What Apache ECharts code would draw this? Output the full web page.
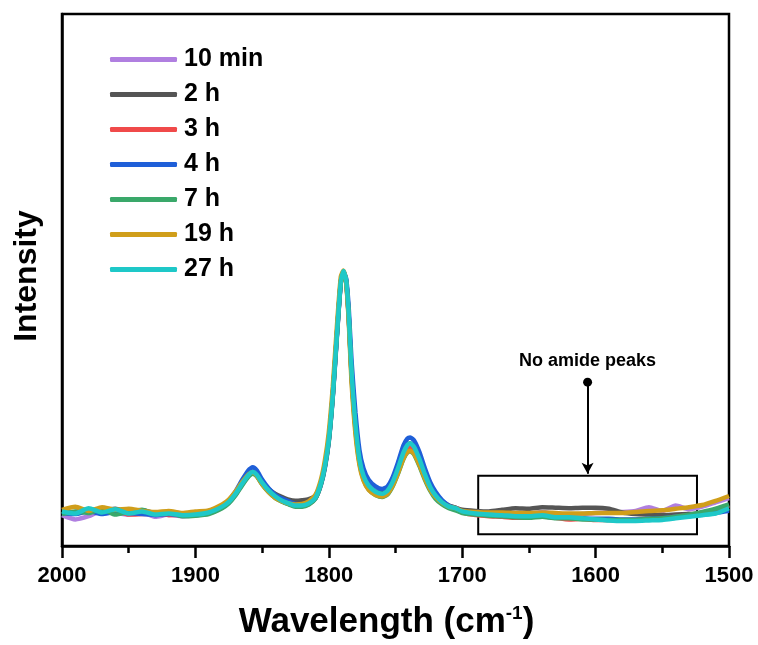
<!DOCTYPE html>
<html>
<head>
<meta charset="utf-8">
<script src="https://cdn.jsdelivr.net/npm/echarts@6/dist/echarts.min.js"></script>
<style>
  html, body { margin: 0; padding: 0; background: #fff; }
  #chart { width: 758px; height: 645px; }
</style>
</head>
<body>
<div id="chart"></div>
<script>
  // wavenumbers (cm-1), shared by every spectrum
  const wavenumbers = [2000, 1990, 1980, 1970, 1960, 1950, 1940, 1930, 1920, 1910,
    1900, 1890, 1880, 1875, 1870, 1865, 1860, 1857, 1854, 1850,
    1845, 1840, 1835, 1830, 1825, 1820, 1815, 1810, 1806, 1803,
    1800, 1797, 1794, 1791, 1789, 1787, 1785, 1783, 1780, 1777,
    1774, 1770, 1765, 1760, 1756, 1752, 1748, 1744, 1741, 1739,
    1736, 1732, 1728, 1724, 1720, 1715, 1710, 1705, 1700, 1690,
    1680, 1670, 1660, 1650, 1640, 1630, 1620, 1610, 1600, 1590,
    1580, 1570, 1560, 1550, 1540, 1530, 1520, 1510, 1500]

  const seriesNames = ['10 min', '2 h', '3 h', '4 h', '7 h', '19 h', '27 h']
  const seriesColors = ['#b07fe0', '#555555', '#f04a4a', '#1f5fd8', '#3aa86a', '#d09e1a', '#1ec8c8']

  const min10 = [5.8, 5.0, 5.6, 6.6, 6.2, 5.9, 6.3, 5.5, 5.9, 5.6,
    5.8, 6.1, 7.2, 8.1, 9.6, 11.5, 13.2, 13.7, 13.2, 11.8,
    10.3, 9.2, 8.4, 7.9, 7.5, 7.5, 7.9, 9.0, 11.6, 14.9,
    19.9, 28.3, 39.4, 49.6, 51.6, 50.0, 43.0, 32.8, 22.6, 16.2,
    13.1, 11.2, 10.1, 9.7, 10.3, 12.0, 14.5, 17.3, 18.7, 19.0,
    18.3, 16.0, 13.3, 11.0, 9.4, 8.2, 7.5, 7.2, 6.7, 6.3,
    6.1, 6.0, 5.9, 6.0, 6.4, 6.0, 5.8, 6.0, 6.2, 6.3,
    6.4, 6.6, 7.3, 6.6, 7.6, 6.9, 7.4, 8.2, 9.0]
  const h2 = [6.6, 6.3, 6.9, 6.6, 7.0, 6.4, 6.7, 6.2, 6.4, 6.1,
    6.2, 6.6, 7.5, 8.4, 9.9, 11.8, 13.5, 14.0, 13.5, 12.0,
    10.7, 9.8, 9.2, 8.7, 8.5, 8.6, 8.8, 9.5, 11.8, 15.0,
    20.2, 28.6, 39.7, 49.8, 51.6, 49.8, 42.8, 32.5, 22.4, 16.0,
    13.0, 11.2, 10.3, 10.0, 10.5, 12.2, 14.6, 17.4, 18.9, 19.3,
    18.5, 16.1, 13.4, 11.2, 9.7, 8.4, 7.6, 7.2, 6.8, 6.6,
    6.5, 6.8, 7.1, 7.0, 7.3, 7.2, 7.1, 7.2, 7.2, 7.0,
    6.3, 6.0, 5.9, 5.8, 5.9, 6.0, 6.1, 6.3, 6.8]
  const h3 = [6.3, 6.4, 6.8, 6.1, 6.7, 5.9, 6.0, 6.1, 5.8, 5.9,
    6.0, 6.2, 7.3, 8.2, 9.7, 11.6, 13.3, 13.8, 13.3, 11.8,
    10.3, 9.2, 8.4, 7.9, 7.5, 7.5, 7.9, 9.0, 11.6, 14.9,
    19.9, 28.3, 39.4, 49.6, 51.5, 49.9, 43.0, 32.6, 22.4, 16.0,
    12.9, 11.0, 10.0, 9.6, 10.1, 11.8, 14.2, 17.0, 18.4, 18.7,
    18.0, 15.7, 13.0, 10.8, 9.2, 8.0, 7.2, 6.9, 6.3, 5.8,
    5.6, 5.5, 5.3, 5.4, 5.6, 5.3, 5.0, 5.1, 4.9, 4.9,
    4.8, 4.9, 5.0, 5.1, 5.5, 5.8, 6.3, 6.8, 7.6]
  const h4 = [6.2, 6.0, 6.6, 6.0, 6.4, 6.2, 6.0, 5.8, 6.0, 5.7,
    5.8, 6.2, 7.6, 8.6, 10.2, 12.4, 14.3, 14.8, 14.2, 12.5,
    10.8, 9.6, 8.9, 8.4, 7.9, 7.8, 8.1, 9.0, 11.4, 14.6,
    19.6, 28.0, 39.0, 49.4, 51.4, 50.3, 44.5, 35.0, 25.0, 18.0,
    14.6, 12.4, 11.2, 10.7, 11.2, 13.0, 15.8, 18.9, 20.2, 20.4,
    19.8, 17.6, 14.6, 12.0, 10.2, 8.6, 7.6, 7.0, 6.4, 6.0,
    5.8, 5.7, 5.6, 5.5, 5.6, 5.3, 5.3, 5.2, 5.1, 5.1,
    5.0, 5.0, 5.1, 5.2, 5.5, 5.6, 5.9, 6.2, 6.6]
  const h7 = [6.0, 6.5, 6.2, 7.0, 5.9, 6.4, 6.8, 6.0, 6.3, 5.6,
    5.7, 6.0, 7.1, 8.0, 9.5, 11.4, 13.1, 13.6, 13.1, 11.6,
    10.1, 9.0, 8.3, 7.8, 7.4, 7.4, 7.8, 8.9, 11.5, 14.8,
    19.8, 28.2, 39.3, 49.5, 51.4, 49.6, 42.6, 32.0, 21.8, 15.6,
    12.5, 10.6, 9.6, 9.2, 9.7, 11.3, 13.7, 16.4, 17.6, 17.8,
    17.2, 15.0, 12.5, 10.4, 8.9, 7.8, 7.1, 6.7, 6.2, 5.9,
    5.7, 5.6, 5.4, 5.3, 5.5, 5.2, 5.2, 5.0, 5.0, 4.9,
    4.9, 4.9, 5.1, 5.2, 5.5, 5.9, 6.4, 7.0, 7.8]
  const h19 = [6.8, 7.4, 6.6, 7.3, 6.8, 7.0, 6.6, 6.4, 6.6, 6.2,
    6.5, 6.7, 7.8, 8.7, 10.2, 12.0, 13.5, 13.8, 13.2, 11.6,
    10.1, 9.0, 8.4, 8.0, 7.8, 7.9, 8.4, 9.6, 12.4, 16.0,
    21.4, 30.0, 41.0, 50.6, 51.8, 49.5, 42.0, 31.0, 21.0, 15.2,
    12.3, 10.5, 9.6, 9.3, 9.8, 11.4, 13.8, 16.5, 17.7, 17.9,
    17.3, 15.2, 12.7, 10.6, 9.2, 8.1, 7.4, 7.1, 6.6, 6.4,
    6.3, 6.3, 6.2, 6.2, 6.3, 6.2, 6.1, 6.1, 6.2, 6.2,
    6.2, 6.4, 6.6, 6.7, 7.0, 7.3, 7.7, 8.5, 9.4]
  const h27 = [6.5, 6.1, 7.1, 6.3, 6.9, 6.1, 6.5, 5.9, 6.1, 5.8,
    5.9, 6.3, 7.4, 8.3, 9.8, 11.7, 13.4, 13.9, 13.4, 11.9,
    10.4, 9.3, 8.5, 8.0, 7.6, 7.6, 8.0, 9.1, 11.7, 15.0,
    20.0, 28.4, 39.5, 49.7, 51.7, 50.0, 43.2, 33.0, 22.8, 16.3,
    13.2, 11.3, 10.2, 9.8, 10.4, 12.1, 14.7, 17.6, 19.0, 19.3,
    18.6, 16.3, 13.5, 11.1, 9.5, 8.2, 7.4, 7.1, 6.5, 6.1,
    5.9, 5.8, 5.6, 5.6, 5.8, 5.4, 5.4, 5.2, 5.0, 4.8,
    4.7, 4.7, 4.8, 4.9, 5.2, 5.5, 5.8, 6.1, 7.1]

  const spectra = [min10, h2, h3, h4, h7, h19, h27]

  // annotation: box over the amide region and the arrow pointing into it
  const boxWn = [1688, 1524]
  const boxIntensity = [2.2, 13.2]
  const arrowWn = 1606
  const arrowIntensity = [30.8, 13.6]

  const font = 'Liberation Sans, Arial, sans-serif'

  const chart = echarts.init(document.getElementById('chart'))

  const series = spectra.map((vals, i) => {
    const s = {
      name: seriesNames[i],
      type: 'line',
      data: vals.map((v, j) => [wavenumbers[j], v]),
      showSymbol: false,
      smooth: 0.2,
      color: seriesColors[i],
      lineStyle: { width: 4.5, color: seriesColors[i] },
      animation: false
    }
    if (i === spectra.length - 1) {
      s.markArea = {
        silent: true,
        itemStyle: { color: 'rgba(0,0,0,0)', borderColor: '#000', borderWidth: 2 },
        data: [[{ coord: [boxWn[0], boxIntensity[1]] }, { coord: [boxWn[1], boxIntensity[0]] }]]
      }
      s.markLine = {
        silent: true,
        symbol: ['circle', 'arrow'],
        symbolSize: [9, 11],
        lineStyle: { color: '#000', type: 'solid', width: 2 },
        label: {
          show: true,
          position: 'start',
          distance: 12,
          formatter: 'No amide peaks',
          color: '#000',
          fontFamily: font,
          fontWeight: 'bold',
          fontSize: 18
        },
        data: [[{ coord: [arrowWn, arrowIntensity[0]] }, { coord: [arrowWn, arrowIntensity[1]] }]]
      }
    }
    return s
  })

  chart.setOption({
    backgroundColor: '#fff',
    grid: {
      left: 62,
      right: 29,
      top: 14,
      bottom: 92,
      show: true,
      borderColor: '#000',
      borderWidth: 2.5,
      backgroundColor: 'transparent'
    },
    legend: {
      orient: 'vertical',
      left: 105,
      top: 42,
      icon: 'roundRect',
      itemWidth: 67,
      itemHeight: 5,
      itemGap: 10,
      data: seriesNames,
      textStyle: {
        fontFamily: font,
        fontWeight: 'bold',
        fontSize: 25,
        lineHeight: 24,
        color: '#000',
        padding: [0, 0, 0, 2]
      }
    },
    xAxis: {
      type: 'value',
      min: 1500,
      max: 2000,
      interval: 100,
      inverse: true,
      name: 'Wavelength (cm{sup|-1})',
      nameLocation: 'middle',
      nameGap: 58,
      nameTextStyle: {
        fontFamily: font,
        fontWeight: 'bold',
        fontSize: 35,
        color: '#000',
        padding: [0, 18, 0, 0],
        rich: {
          sup: { fontFamily: font, fontWeight: 'bold', fontSize: 19, verticalAlign: 'top', padding: [0, 0, 18, 0], color: '#000' }
        }
      },
      axisLine: { onZero: false, lineStyle: { color: '#000', width: 2.5 } },
      axisTick: { inside: false, length: 12, lineStyle: { color: '#000', width: 2.5 } },
      minorTick: { show: true, splitNumber: 2, length: 7, lineStyle: { color: '#000', width: 2.5 } },
      axisLabel: {
        fontFamily: font,
        fontWeight: 'bold',
        fontSize: 22,
        color: '#000',
        margin: 19,
        formatter: v => String(v)
      },
      splitLine: { show: false }
    },
    yAxis: {
      type: 'value',
      min: 0,
      max: 100,
      name: 'Intensity',
      nameLocation: 'middle',
      nameGap: 19,
      nameTextStyle: {
        fontFamily: font,
        fontWeight: 'bold',
        fontSize: 32,
        color: '#000',
        padding: [0, 0, 0, 8]
      },
      axisLine: { show: true, onZero: false, lineStyle: { color: '#000', width: 2.5 } },
      axisTick: { show: false },
      axisLabel: { show: false },
      splitLine: { show: false }
    },
    series: series
  })
</script>
</body>
</html>
